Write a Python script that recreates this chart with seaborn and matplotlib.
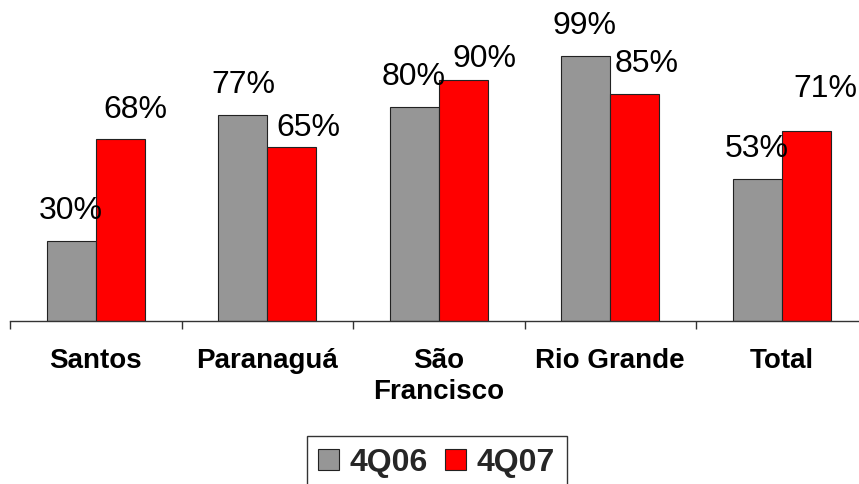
import matplotlib
matplotlib.use("Agg")
import matplotlib.pyplot as plt
from matplotlib.patches import Patch
from matplotlib.ticker import FixedLocator
import seaborn as sns
import pandas as pd

categories = ["Santos", "Paranaguá", "São\nFrancisco", "Rio Grande", "Total"]
series_names = ["4Q06", "4Q07"]
values_4q06 = [30, 77, 80, 99, 53]
values_4q07 = [68, 65, 90, 85, 71]

colors = ["#969696", "#FF0000"]

# label offsets (pixels) relative to bar top-centre: style only
off_4q06 = [(-1, 22), (1, 22), (-1, 22), (-1, 22), (-1, 22)]
off_4q07 = [(15, 21), (17, 11), (21, 13), (12, 22), (19, 34)]

df = pd.DataFrame({
    "cat": categories * 2,
    "series": [series_names[0]] * 5 + [series_names[1]] * 5,
    "value": values_4q06 + values_4q07,
})

sns.set_theme(style="white")
plt.rcParams["font.family"] = ["Liberation Sans", "DejaVu Sans"]

DPI = 100
fig = plt.figure(figsize=(8.59, 4.84), dpi=DPI)
W, H = 859, 484
ax_left, ax_right = 10, 867.5
ax_bottom, ax_top = 320.7, 0
ax = fig.add_axes([ax_left / W, 1 - ax_bottom / H, (ax_right - ax_left) / W, (ax_bottom - ax_top) / H])

sns.barplot(data=df, x="cat", y="value", hue="series", palette=colors,
            width=0.57, gap=0, edgecolor="#222222", linewidth=0.8,
            saturation=1, ax=ax, legend=False)

ax.set_ylim(0, 120)
ax.set_xlim(-0.5, 4.5)
ax.set_xlabel("")
ax.set_ylabel("")
ax.set_yticks([])
for s in ["top", "left", "right"]:
    ax.spines[s].set_visible(False)
ax.spines["bottom"].set_color("#333333")
ax.spines["bottom"].set_linewidth(1.0)
ax.patch.set_alpha(0)

ax.xaxis.set_minor_locator(FixedLocator([i - 0.5 for i in range(6)]))
ax.tick_params(axis="x", which="major", length=0, pad=20, labelsize=20)
ax.tick_params(axis="x", which="minor", length=6, width=1.0, color="#333333", direction="out", bottom=True)
for lbl in ax.get_xticklabels():
    lbl.set_fontweight("bold")
    lbl.set_linespacing(1.25)
    lbl.set_color("black")

px2pt = 72.0 / DPI
for cont, offs in zip(ax.containers, [off_4q06, off_4q07]):
    for bar, (dx, dy) in zip(cont, offs):
        h = bar.get_height()
        ax.annotate(f"{h:.0f}%", xy=(bar.get_x() + bar.get_width() / 2, h),
                    xytext=(dx * px2pt, dy * px2pt), textcoords="offset points",
                    ha="center", va="baseline", fontsize=23, color="black",
                    annotation_clip=False)

handles = [Patch(facecolor=c, edgecolor="#222222", linewidth=0.8) for c in colors]
leg = fig.legend(handles, series_names, loc="upper left",
                 bbox_to_anchor=(306.7 / W, 1 - 436 / H), ncol=2,
                 prop={"weight": "bold", "size": 23},
                 handlelength=0.66, handleheight=0.66, handletextpad=0.33,
                 columnspacing=0.54, borderpad=0.36, borderaxespad=0,
                 frameon=True, fancybox=False, shadow=False)
leg.get_frame().set_edgecolor("black")
leg.get_frame().set_linewidth(1.0)

fig.savefig("out.png", dpi=DPI)
